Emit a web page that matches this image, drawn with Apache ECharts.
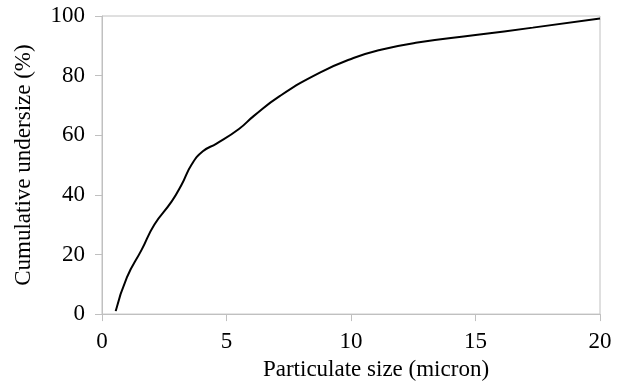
<!DOCTYPE html>
<html><head><meta charset="utf-8">
<script src="https://cdn.jsdelivr.net/npm/echarts@6/dist/echarts.min.js"></script>
<style>html,body{margin:0;padding:0;background:#fff}#c{width:622px;height:386px}</style>
</head><body><div id="c"></div>
<script>
var sizes = [0.55, 1.0, 1.6, 2.1, 2.8, 3.2, 3.6, 4.05, 4.6, 5.5, 6.1, 7.15, 8.75, 10.1, 11.2, 12.6, 15.0, 17.3, 20.0];
var undersize = [1.0, 12.3, 21.7, 30.0, 37.8, 43.5, 50.2, 54.6, 57.2, 62.1, 66.5, 73.2, 81.0, 85.9, 88.7, 91.0, 93.6, 96.1, 99.2];
var xTitle = 'Particulate size (micron)';
var yTitle = 'Cumulative undersize (%)';

var font = '"Liberation Serif", "Times New Roman", serif';
var gray = '#c0c0c0';
var chart = echarts.init(document.getElementById('c'));
chart.setOption({
  animation: false,
  grid: {left: 102, right: 22, top: 16, bottom: 69, show: true, borderColor: gray, borderWidth: 1, containLabel: false},
  xAxis: {
    type: 'value', min: 0, max: 20, interval: 5,
    name: xTitle, nameLocation: 'middle', nameGap: 42,
    nameTextStyle: {fontFamily: font, fontSize: 23, color: '#000', padding: [0, 0, 0, 50]},
    axisLine: {show: true, lineStyle: {color: gray, width: 1}},
    axisTick: {show: true, inside: false, length: 7, lineStyle: {color: gray}},
    axisLabel: {fontFamily: font, fontSize: 23, color: '#000', margin: 16},
    splitLine: {show: false}
  },
  yAxis: {
    type: 'value', min: 0, max: 100, interval: 20,
    name: yTitle, nameLocation: 'middle', nameGap: 67,
    nameTextStyle: {fontFamily: font, fontSize: 23, color: '#000'},
    axisLine: {show: true, lineStyle: {color: gray, width: 1}},
    axisTick: {show: true, inside: false, length: 7, lineStyle: {color: gray}},
    axisLabel: {fontFamily: font, fontSize: 23, color: '#000', margin: 17},
    splitLine: {show: false}
  },
  series: [{
    type: 'line', smooth: 0.5, showSymbol: false,
    lineStyle: {color: '#000', width: 2},
    data: sizes.map(function (s, i) { return [s, undersize[i]]; })
  }]
});
</script></body></html>
